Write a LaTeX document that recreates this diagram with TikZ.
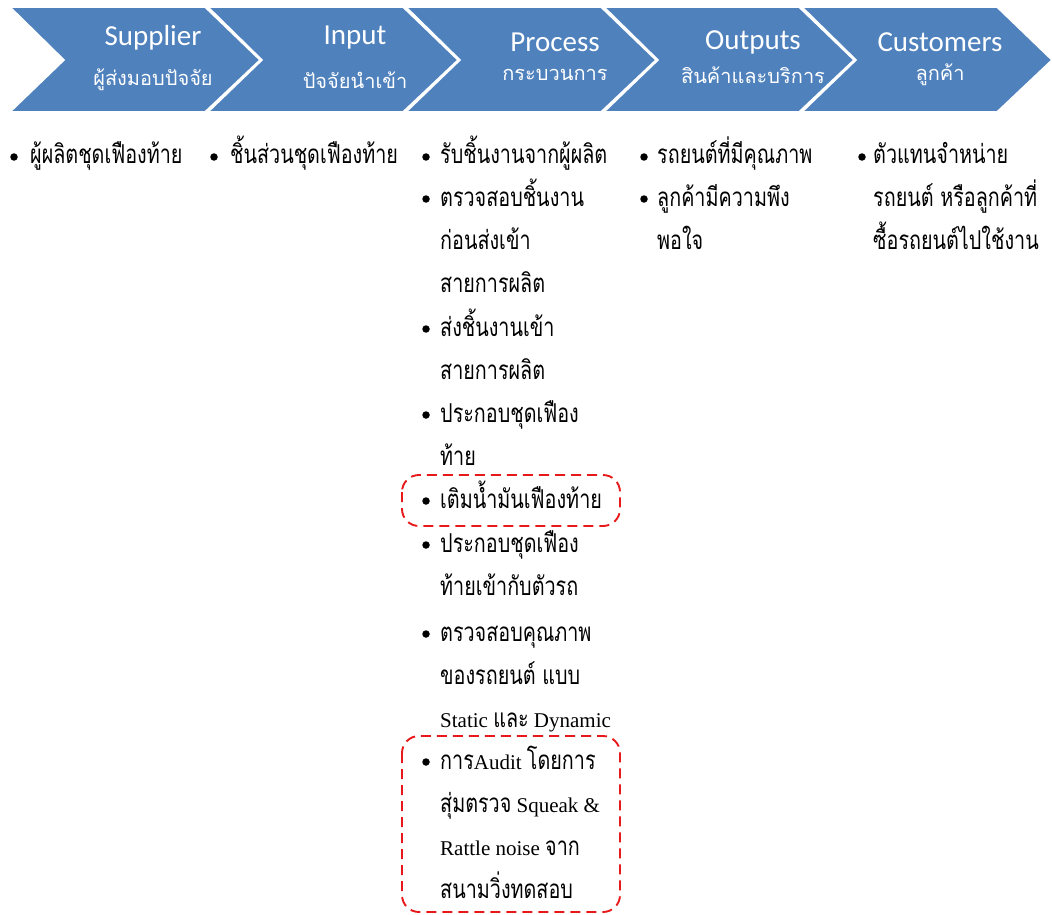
\documentclass[tikz,border=0pt]{standalone}
\usepackage{fontspec}
\setmainfont{Liberation Serif}
\newfontfamily\thai[Script=Thai,FakeStretch=0.76]{Loma}
\newfontfamily\thaihd[Script=Thai]{Loma}
\newfontfamily\hdr{Carlito}
\newcommand{\T}[1]{{\fontsize{26}{26}\thai #1}}
\definecolor{chev}{HTML}{4F81BD}
\definecolor{redbox}{HTML}{E8191B}
\tikzset{
  chevron/.style={fill=chev, draw=white, line width=1.6pt, line join=miter},
  hdtitle/.style={text=white, inner sep=0, font=\hdr\fontsize{29}{29}\selectfont},
  hdsub/.style={text=white, inner sep=0, font=\thaihd\fontsize{20}{20}\selectfont},
  line/.style={anchor=base west, inner sep=0, font=\fontsize{21}{21}\selectfont},
  bul/.style={circle, fill=black, inner sep=0, minimum size=7.5pt},
  hl/.style={draw=redbox, line width=1.9pt, dash pattern=on 10pt off 6pt, rounded corners=17pt}
}
\begin{document}
\begin{tikzpicture}[x=1pt,y=1pt]
\useasboundingbox (0,0) rectangle (1052,-915);
% chevrons
\foreach \i/\xa in {1/10,2/208,3/406,4/604,5/802}{
  \path[chevron] (\xa,-7) -- ({\xa+195},-7) -- ({\xa+250},-60) -- ({\xa+195},-112) -- (\xa,-112) -- ({\xa+54},-60) -- cycle;
}
\node[hdtitle] (h1) at (153,-38) {Supplier};
\node[hdsub] (s1) at (153,-80) {ผู้ส่งมอบปัจจัย};
\node[hdtitle] (h2) at (355,-38) {Input};
\node[hdsub] (s2) at (355,-80) {ปัจจัยนำเข้า};
\node[hdtitle] (h3) at (555,-42) {Process};
\node[hdsub] (s3) at (555,-75) {กระบวนการ};
\node[hdtitle] (h4) at (753,-42) {Outputs};
\node[hdsub] (s4) at (753,-75) {สินค้าและบริการ};
\node[hdtitle] (h5) at (940,-42) {Customers};
\node[hdsub] (s5) at (940,-75) {ลูกค้า};
% column 1
\node[bul] (b1) at (14,-157) {};
\node[line] (c1a) at (30,-164) {\T{ผู้ผลิตชุดเฟืองท้าย}};
% column 2
\node[bul] (b2) at (214,-157) {};
\node[line] (c2a) at (230,-164) {\T{ชิ้นส่วนชุดเฟืองท้าย}};
% column 3
\foreach \n/\y in {1/164,2/206,3/336,4/422,5/508,6/552,7/641,8/769}{
  \node[bul] (b3\n) at (426,{-\y+7}) {};
}
\node[line] (p1) at (440,-164) {\T{รับชิ้นงานจากผู้ผลิต}};
\node[line] (p2) at (440,-206) {\T{ตรวจสอบชิ้นงาน}};
\node[line] (p3) at (440,-249) {\T{ก่อนส่งเข้า}};
\node[line] (p4) at (440,-292) {\T{สายการผลิต}};
\node[line] (p5) at (440,-336) {\T{ส่งชิ้นงานเข้า}};
\node[line] (p6) at (440,-379) {\T{สายการผลิต}};
\node[line] (p7) at (440,-422) {\T{ประกอบชุดเฟือง}};
\node[line] (p8) at (440,-465) {\T{ท้าย}};
\node[line] (p9) at (440,-508) {\T{เติมน้ำมันเฟืองท้าย}};
\node[line] (p10) at (440,-552) {\T{ประกอบชุดเฟือง}};
\node[line] (p11) at (440,-595) {\T{ท้ายเข้ากับตัวรถ}};
\node[line] (p12) at (440,-641) {\T{ตรวจสอบคุณภาพ}};
\node[line] (p13) at (440,-684) {\T{ของรถยนต์ แบบ}};
\node[line] (p14) at (440,-727) {Static \T{และ} Dynamic};
\node[line] (p15) at (440,-769) {\T{การ}Audit \T{โดยการ}};
\node[line] (p16) at (440,-812) {\T{สุ่มตรวจ} Squeak \&};
\node[line] (p17) at (440,-855) {Rattle noise \T{จาก}};
\node[line] (p18) at (440,-898) {\T{สนามวิ่งทดสอบ}};
% column 4
\node[bul] (b41) at (644,-157) {};
\node[bul] (b42) at (644,-199) {};
\node[line] (o1) at (657,-164) {\T{รถยนต์ที่มีคุณภาพ}};
\node[line] (o2) at (657,-206) {\T{ลูกค้ามีความพึง}};
\node[line] (o3) at (657,-249) {\T{พอใจ}};
% column 5
\node[bul] (b5) at (862,-157) {};
\node[line] (u1) at (873,-164) {\T{ตัวแทนจำหน่าย}};
\node[line] (u2) at (873,-206) {\T{รถยนต์ หรือลูกค้าที่}};
\node[line] (u3) at (873,-249) {\T{ซื้อรถยนต์ไปใช้งาน}};
% highlight boxes
\draw[hl] (402,-475) rectangle (620,-526);
\draw[hl] (402,-736) rectangle (620,-912);
\end{tikzpicture}
\end{document}
